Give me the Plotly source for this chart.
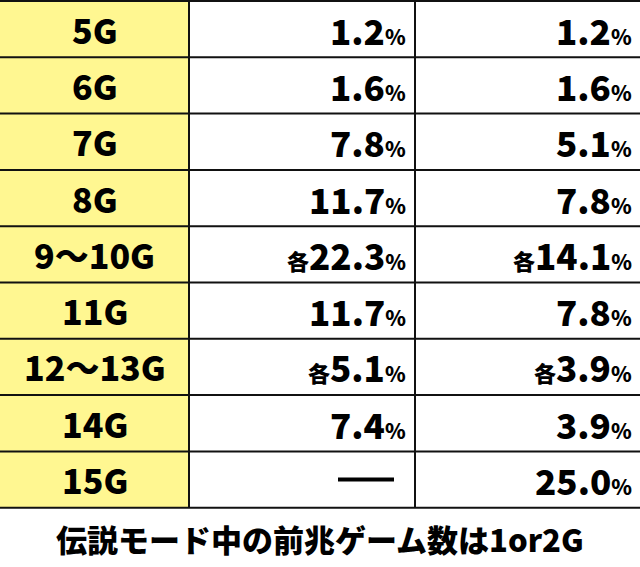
import plotly.graph_objects as go

games = ["5G", "6G", "7G", "8G", "9〜10G", "11G", "12〜13G", "14G", "15G"]
col_a = ["1.2", "1.6", "7.8", "11.7", "22.3", "11.7", "5.1", "7.4", None]
col_b = ["1.2", "1.6", "5.1", "7.8", "14.1", "7.8", "3.9", "3.9", "25.0"]
each = [False, False, False, False, True, False, True, False, False]
caption = "伝説モード中の前兆ゲーム数は1or2G"

W, H = 640, 567
top, rh = 1, 56.3
xs = [0, 189, 415, 640]
FONT = "Noto Sans CJK JP"

fig = go.Figure()
shapes = []
shapes.append(dict(type="rect", x0=0, x1=xs[1], y0=top, y1=top + rh * 9, fillcolor="#FFF791", line_width=0, layer="below"))
for k in range(10):
    y = top + rh * k
    shapes.append(dict(type="line", x0=0, x1=W, y0=y, y1=y, line=dict(color="#111", width=2)))
for x in xs[1:3]:
    shapes.append(dict(type="line", x0=x, x1=x, y0=top, y1=top + rh * 9, line=dict(color="#111", width=2)))

def val(v, e):
    s = ""
    if e:
        s += "<span style='font-size:22px'>各</span>"
    s += v + "<span style='font-size:21px'>%</span>"
    return s

def f(size):
    return dict(family=FONT, size=size, color="#000", weight=900)

ann = []
for i, g in enumerate(games):
    yc = top + rh * (i + 0.5)
    ann.append(dict(x=xs[1] / 2, y=yc, text=g, showarrow=False, xanchor="center", yanchor="middle", font=f(34)))
    a = col_a[i]
    if a is None:
        shapes.append(dict(type="line", x0=338, x1=394, y0=yc, y1=yc, line=dict(color="#000", width=4)))
    else:
        ann.append(dict(x=408, y=yc, text=val(a, each[i]), showarrow=False, xanchor="right", yanchor="middle", font=f(35)))
    ann.append(dict(x=634, y=yc, text=val(col_b[i], each[i]), showarrow=False, xanchor="right", yanchor="middle", font=f(35)))
ann.append(dict(x=W / 2, y=538, text=caption, showarrow=False, xanchor="center", yanchor="middle", font=f(31)))

fig.update_layout(width=W, height=H, margin=dict(l=0, r=0, t=0, b=0), paper_bgcolor="white", plot_bgcolor="white",
                  shapes=shapes, annotations=ann, showlegend=False,
                  xaxis=dict(range=[0, W], visible=False, fixedrange=True),
                  yaxis=dict(range=[H, 0], visible=False, fixedrange=True))
fig.write_html("out.html", config={"displayModeBar": False},
               post_script="document.body.style.margin='0';document.body.style.overflow='hidden';")
